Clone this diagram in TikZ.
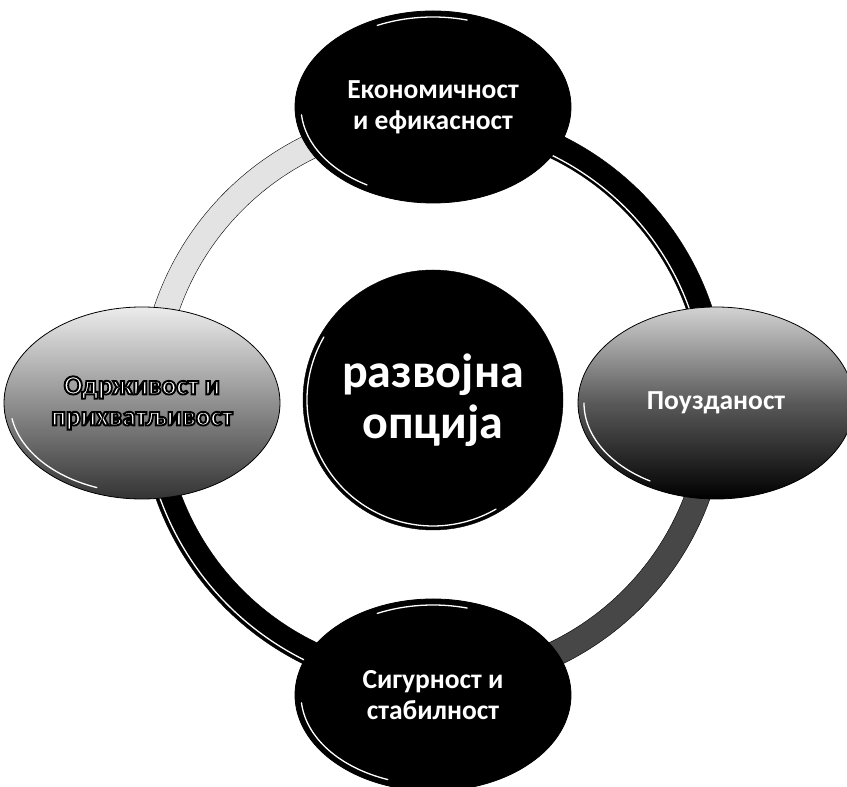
\documentclass[tikz,border=0pt]{standalone}
\usepackage{fontspec}
\setmainfont{Carlito}
\usetikzlibrary{shapes.geometric}

% white letters with a black rim (fill and stroke render mode)
\newcommand{\rimtext}[1]{{\special{pdf:literal direct q 0 G 1.9 w 2 Tr}#1\special{pdf:literal direct Q}}}

\tikzset{
    bubble/.style={ellipse, draw=black, thick, minimum width=276, minimum height=192,
        inner sep=0pt, align=center, text=white, font=\bfseries\fontsize{27.5}{31}\selectfont},
    darkbubble/.style={bubble, fill=black},
    hub/.style={circle, fill=black, draw=black, minimum size=260, inner sep=0pt,
        align=center, text=white, font=\bfseries\fontsize{48}{51}\selectfont},
    gleam/.style={white, line width=1.3pt, line cap=round},
}

\begin{document}
\begin{tikzpicture}[x=1pt, y=1pt]
        \useasboundingbox (0,0) rectangle (847,787);
        %\draw[gray, dashed] (0,0) grid[step=50] (847,787);

        \coordinate (ctr) at (433,387);

        % ring, four quarters
        \fill[black] ([shift={(0:294)}]ctr) arc (0:90:294) -- ([shift={(90:269)}]ctr) arc (90:0:269) -- cycle;
        \fill[gray!22] ([shift={(90:294)}]ctr) arc (90:180:294) -- ([shift={(180:269)}]ctr) arc (180:90:269) -- cycle;
        \fill[black] ([shift={(180:294)}]ctr) arc (180:270:294) -- ([shift={(270:269)}]ctr) arc (270:180:269) -- cycle;
        \fill[black!72] ([shift={(270:294)}]ctr) arc (270:360:294) -- ([shift={(0:269)}]ctr) arc (0:-90:269) -- cycle;
        \draw[black] (ctr) circle (294);
        \draw[black] (ctr) circle (269);
        \draw[gleam] ([shift={(0:272)}]ctr) arc (0:90:272);
        \draw[gleam] ([shift={(180:290)}]ctr) arc (180:270:290);

        \node[hub] (opt) at (ctr) {развојна\\опција};
        \draw[gleam] ([shift={(150:126)}]opt.center) arc (150:300:126);

        \node[darkbubble] (econ) at (433,680) {Економичност\\и ефикасност};
        \node[darkbubble] (safe) at (433,92) {Сигурност и\\стабилност};
        \node[bubble, top color=gray!15, bottom color=black!80] (sust) at (142,384)
            {\rimtext{Одрживост и}\\\rimtext{прихватљивост}};
        \node[bubble, top color=gray!35, bottom color=black, middle color=black!65] (rel) at (716,384)
            {Поузданост};

        % highlights on the edges
        \draw[gleam] ([shift={(115:132 and 90)}]econ.center) arc[start angle=115, end angle=75, x radius=132, y radius=90];
        \draw[gleam] ([shift={(185:132 and 90)}]econ.center) arc[start angle=185, end angle=240, x radius=132, y radius=90];
        \draw[gleam] ([shift={(115:132 and 90)}]safe.center) arc[start angle=115, end angle=75, x radius=132, y radius=90];
        \draw[gleam] ([shift={(185:132 and 90)}]safe.center) arc[start angle=185, end angle=250, x radius=132, y radius=90];
        \draw[gleam] ([shift={(190:132 and 90)}]sust.center) arc[start angle=190, end angle=250, x radius=132, y radius=90];
        \draw[gleam] ([shift={(180:132 and 90)}]rel.center) arc[start angle=180, end angle=240, x radius=132, y radius=90];
    \end{tikzpicture}
\end{document}
